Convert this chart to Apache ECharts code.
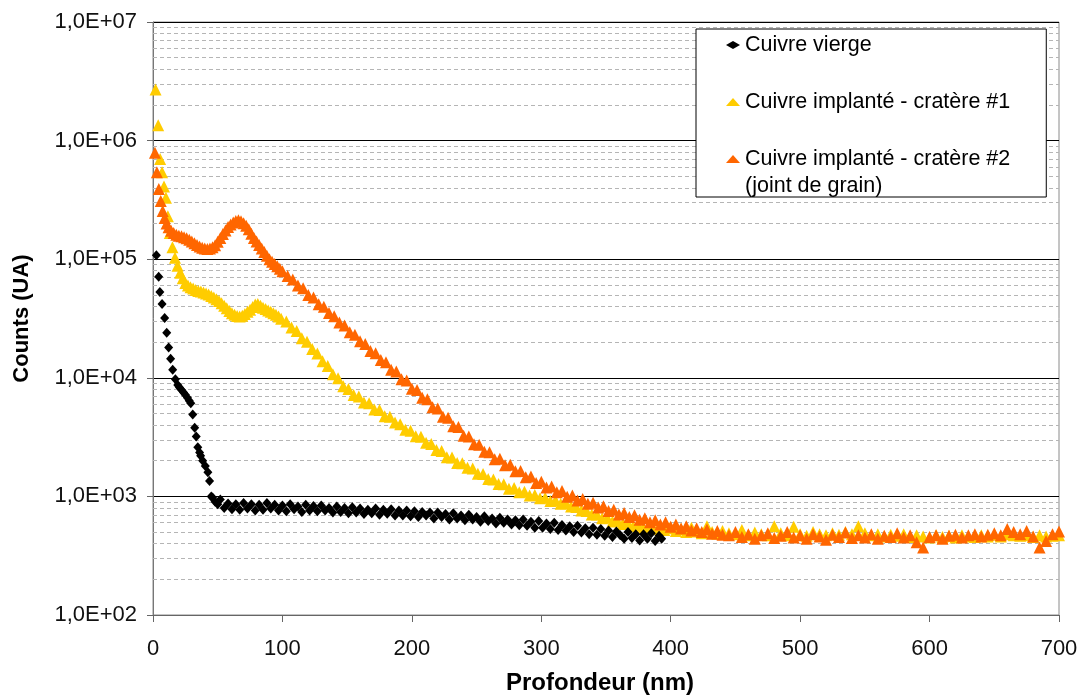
<!DOCTYPE html>
<html><head><meta charset="utf-8">
<script src="https://cdn.jsdelivr.net/npm/echarts@6/dist/echarts.min.js"></script>
<style>html,body{margin:0;padding:0;background:#fff}#c{width:1080px;height:695px}</style>
</head><body><div id="c"></div>
<script>
const FONT = '"Liberation Sans", Arial, sans-serif';
const seriesNames = ['Cuivre vierge', 'Cuivre implanté - cratère #1', 'Cuivre implanté - cratère #2'];
const legendExtraLine = '(joint de grain)';
const xTitle = 'Profondeur (nm)';
const yTitle = 'Counts (UA)';
const yTickLabels = ['1,0E+02', '1,0E+03', '1,0E+04', '1,0E+05', '1,0E+06', '1,0E+07'];

// Cuivre vierge  [depth nm, counts]
const blackData = [
[2.6,108000],[4.4,71000],[5.3,53000],[7.0,42000],[9.0,32000],[10.6,24000],[12.1,18000],[13.6,14500],[15.2,11700],[17.3,9700],
[19.1,8700],[20.5,8300],[22.1,7900],[23.6,7500],[25.0,7200],[26.6,6800],[28.0,6400],[29.2,6100],[30.7,4900],[32.2,3800],
[33.4,3200],[34.6,2600],[36.0,2350],[36.8,2200],[38.4,2000],[40.4,1800],[42.4,1600],[43.7,1350],[45.0,1000],
[46,980],[48,900],[50,860],[52,940],[55,800],[58,870],[61,780],[64,860],[67,770],[70,880],[73,790],[76,860],[79,760],[82,850],
[85,770],[88,880],[91,790],[94,850],[97,760],[100,840],[103,750],[106,860],[109,780],[112,820],[115,740],[118,850],[121,760],
[124,830],[127,750],[130,840],[133,760],[136,800],[139,730],[142,820],[145,740],[148,800],[151,720],[154,810],[157,730],[160,790],
[163,710],[166,770],[169,720],[172,790],[175,700],[178,770],[181,715],[184,780],[187,690],[190,760],[193,690],[196,760],[199,680],
[202,750],[205,670],[208,740],[211,690],[214,730],[217,650],[220,730],[223,670],[226,710],[229,640],[232,720],[235,650],[238,690],
[241,630],[244,700],[247,640],[250,670],[253,610],[256,680],[259,620],[262,650],[265,590],[268,660],[271,600],[274,640],[277,580],
[280,630],[283,570],[286,640],[289,565],[292,610],[295,545],[298,620],[301,545],[304,590],[307,530],[310,600],[313,520],[316,575],
[319,515],[322,560],[325,500],[328,565],[331,495],[334,540],[337,480],[340,545],[343,475],[346,530],[349,465],[352,515],[355,455],
[358,505],[361,470],[364,440],[367,500],[370,445],[373,480],[376,425],[379,480],[382,440],[385,490],[388,420],[391,465],[393,440]
];

// Cuivre implanté - cratère #1
const yellowData = [
[2,2700000],[4,1350000],[5.5,700000],[7,540000],[8.5,410000],[10,330000],[11.5,230000],[13,166000],[15,126000],[17,103000],
[19,88000],[21,77000],[23,69000],[25,63000],[27,60000],[29,58000],[31,56500],[33,55000],[35,54000],[37,53500],[39,52500],
[41,51500],[43,50500],[45,49000],[47,47500],[49,46000],[51,44500],[53,42500],[55,40500],[57,38500],[59,36500],[61,35000],
[63,34000],[65,33200],[67,32800],[69,33300],[71,34500],[73,36000],[75,37500],[77,39500],[79,41500],[81,42000],[83,40500],
[85,39000],[87,38000],[89,37000],[91,36000],[93,35000],[95,34000],[97,32800],[99,31500],
[103,29800],[107,26600],[111,24800],[115,21600],[119,20100],[123,17500],[127,16000],[131,13800],[135,12600],[139,10700],
[143,9900],[147,8500],[151,8050],[155,7150],[159,6950],[163,6200],[167,6100],[171,5400],[175,5350],[179,4750],[183,4700],
[187,4200],[191,4050],[195,3650],[199,3580],[203,3220],[207,3180],[211,2830],[215,2760],[219,2460],[223,2410],[227,2140],
[231,2130],[235,1910],[239,1900],[243,1740],[247,1720],[251,1550],[255,1545],[259,1400],[263,1390],[267,1270],[271,1265],
[275,1160],[279,1175],[283,1085],[287,1095],[291,1020],[295,1030],[299,965],[303,975],[307,915],[311,925],[315,865],[319,875],
[323,820],[327,815],[331,760],[335,755],[339,705],[343,705],[347,655],[351,660],[355,615],[359,620],[363,585],[367,590],
[371,560],[375,570],[379,540],[383,550],[387,530],[391,555],[395,520],[399,540],
[404,510],[408,530],[412,500],[416,545],[420,505],[424,490],[428,560],[432,500],[436,485],[440,510],
[445,490],[450,480],[455,520],[460,470],[465,495],[470,480],[475,470],[480,560],[485,490],[490,470],[495,555],[500,480],
[505,465],[510,500],[515,480],[520,470],[525,490],[530,475],[535,500],[540,480],[545,560],[550,490],[555,470],[560,480],
[565,460],[570,475],[575,465],[580,480],[585,455],[590,470],[595,460],[600,450],[605,470],[610,455],[615,465],[620,450],
[625,470],[630,460],[635,455],[640,470],[645,460],[650,475],[655,460],[660,480],[665,470],[670,465],[675,470],[680,455],
[685,470],[690,460],[695,465],[700,470]
];

// Cuivre implanté - cratère #2 (joint de grain)
const orangeData = [
[1.5,790000],[3,540000],[4.5,390000],[6,310000],[7.5,255000],[9,222000],[10.5,200000],[12,186000],[14,174000],[16,166000],
[18,161000],[20,158000],[22,156000],[24,153000],[26,150000],[28,146000],[30,141000],[32,136000],[34,132000],[36,128000],
[38,125000],[40,123000],[42,122000],[44,123000],[46,126000],[48,131000],[50,140000],[52,151000],[54,163000],[56,175000],
[58,187000],[60,196000],[62,204000],[64,210000],[66,213000],[68,209000],[70,201000],[72,191000],[74,179000],[76,164000],
[78,151000],[80,141000],[82,132000],[84,123000],[86,115000],[88,107000],[90,100000],[92,95000],[94,91000],[96,87000],
[98,83000],[100,79000],
[104,72000],[108,67500],[112,60000],[116,57000],[120,50000],[124,47500],[128,41800],[132,39800],[136,35200],[140,33000],
[144,29200],[148,27600],[152,24200],[156,23100],[160,20300],[164,19300],[168,16800],[172,16100],[176,14100],[180,13500],
[184,11700],[188,11300],[192,9700],[196,9500],[200,8100],[204,7900],[208,6800],[212,6600],[216,5650],[220,5500],[224,4700],
[228,4600],[232,3900],[236,3850],[240,3250],[244,3200],[248,2750],[252,2720],[256,2380],[260,2360],[264,2060],[268,2080],
[272,1830],[276,1850],[280,1630],[284,1640],[288,1450],[292,1470],[296,1300],[300,1330],[304,1190],[308,1210],[312,1085],
[316,1110],[320,995],[324,1020],[328,925],[332,950],[336,865],[340,885],[344,805],[348,825],[352,755],[356,770],[360,705],
[364,725],[368,670],[372,695],[376,635],[380,655],[384,605],[388,630],[392,580],[396,605],[400,555],[404,580],[408,535],
[412,560],[416,515],[420,540],[424,500],[428,525],[432,485],[436,510],[440,475],
[445,470],[450,500],[455,455],[460,480],[465,440],[470,470],[475,490],[480,445],[485,465],[490,500],[495,450],[500,470],
[505,440],[510,480],[515,460],[520,430],[525,475],[530,455],[535,495],[540,445],[545,470],[550,450],[555,480],[560,440],
[565,465],[570,455],[575,490],[580,450],[585,470],[590,410],[595,370],[600,455],[605,470],[610,440],[615,465],[620,475],
[625,450],[630,470],[635,480],[640,460],[645,475],[650,490],[655,470],[660,530],[665,500],[670,480],[675,510],[680,460],
[685,370],[690,420],[695,480],[700,505]
];

// dashed minor grid at 2..9 x each decade
const minorGrid = [];
for (let e = 2; e < 7; e++) for (let m = 2; m <= 9; m++) minorGrid.push(m * Math.pow(10, e));

const chart = echarts.init(document.getElementById('c'), null, {renderer: 'canvas'});
chart.setOption({
  animation: false,
  backgroundColor: '#fff',
  textStyle: {fontFamily: FONT},
  grid: {left: 153, right: 21, top: 22, bottom: 80, show: true, containLabel: false, outerBoundsMode: 'none',
         borderColor: '#8a8a8a', borderWidth: 1, backgroundColor: 'transparent'},
  xAxis: {
    type: 'value', min: 0, max: 700, interval: 100,
    name: xTitle, nameLocation: 'middle', nameGap: 56,
    nameTextStyle: {fontSize: 24, fontWeight: 'bold', color: '#000', fontFamily: FONT, padding: [0, 12, 0, 0]},
    axisLine: {show: true, lineStyle: {color: '#666', width: 1}},
    axisTick: {show: true, length: 7, inside: false, lineStyle: {color: '#666'}},
    axisLabel: {fontSize: 22, color: '#111', margin: 23, fontFamily: FONT},
    splitLine: {show: false}
  },
  yAxis: {
    type: 'log', logBase: 10, min: 100, max: 10000000,
    name: yTitle, nameLocation: 'middle', nameGap: 120,
    nameTextStyle: {fontSize: 22, fontWeight: 'bold', color: '#000', fontFamily: FONT},
    axisLine: {show: true, lineStyle: {color: '#777', width: 1}},
    axisTick: {show: true, length: 6, inside: false, lineStyle: {color: '#666'}},
    axisLabel: {fontSize: 22, color: '#111', margin: 16, fontFamily: FONT,
      formatter: v => yTickLabels[Math.round(Math.log10(v)) - 2]},
    splitLine: {show: true, lineStyle: {color: '#000', width: 1}}
  },
  legend: {
    data: seriesNames, orient: 'vertical', left: 696, top: 29,
    padding: [4, 36, 26, 30], itemGap: 33, itemWidth: 14, itemHeight: 8,
    backgroundColor: '#fff', borderColor: '#000', borderWidth: 1,
    selectedMode: false,
    textStyle: {fontSize: 21.5, lineHeight: 24, color: '#000', fontFamily: FONT}
  },
  graphic: [{
    type: 'text', left: 745, top: 175, z: 100, zlevel: 0,
    style: {text: legendExtraLine, font: '21.5px ' + FONT, fill: '#000'}
  }],
  series: [
    {
      name: seriesNames[1], type: 'scatter', data: yellowData, z: 3,
      symbol: 'triangle', symbolSize: 12,
      itemStyle: {color: '#FFCC00', opacity: 1},
      emphasis: {disabled: true},
      markLine: {
        silent: true, z: 1, symbol: ['none', 'none'], animation: false,
        label: {show: false}, emphasis: {disabled: true},
        lineStyle: {color: '#b5b5b5', type: [4, 3], width: 1},
        data: minorGrid.map(v => ({yAxis: v}))
      }
    },
    {
      name: seriesNames[2], type: 'scatter', data: orangeData, z: 4,
      symbol: 'triangle', symbolSize: 12,
      itemStyle: {color: '#FF6600', opacity: 1},
      emphasis: {disabled: true}
    },
    {
      name: seriesNames[0], type: 'scatter', data: blackData, z: 5,
      symbol: 'diamond', symbolSize: [9, 10],
      itemStyle: {color: '#000', opacity: 1},
      emphasis: {disabled: true}
    }
  ]
});
</script>
</body></html>
